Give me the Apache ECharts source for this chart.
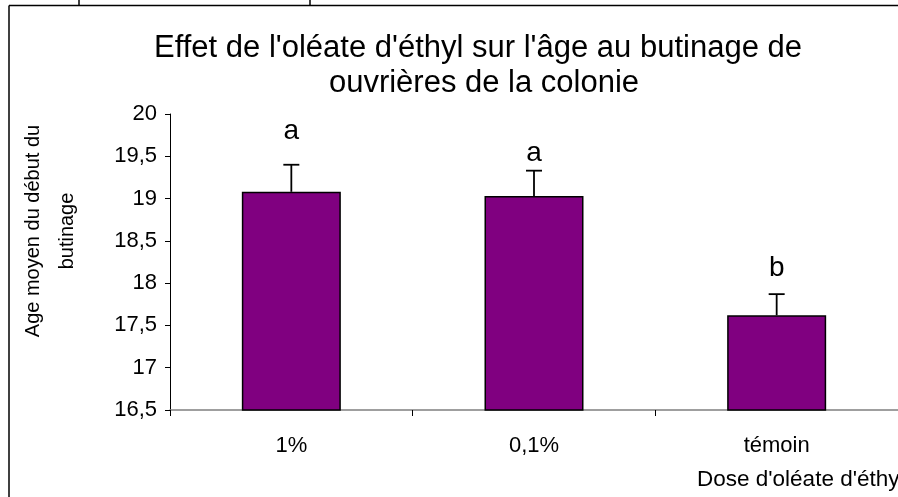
<!DOCTYPE html>
<html>
<head>
<meta charset="utf-8">
<script src="https://cdn.jsdelivr.net/npm/echarts@6/dist/echarts.min.js"></script>
<style>
	html, body { margin: 0; padding: 0; background: #fff; }
	#chart { width: 898px; height: 497px; }
</style>
</head>
<body>
<div id="chart"></div>
<script>
	// data
	var categories = ['1%', '0,1%', 'témoin'];
	var means = [19.08, 19.03, 17.62];
	var errors = [0.32, 0.30, 0.25];
	var letters = ['a', 'a', 'b'];
	var letterLevel = [19.80, 19.54, 18.17];
	var yMin = 16.5, yMax = 20, yStep = 0.5;

	var font = "'Liberation Sans', Arial, sans-serif";
	var titleStyle = { fontFamily: font, fontSize: 31, fontWeight: 'normal', color: '#000' };

	var chart = echarts.init(document.getElementById('chart'), null, { renderer: 'canvas' });

	chart.setOption({
		animation: false,
		backgroundColor: '#fff',
		// the first title line is clipped on the right in the original, so the two lines sit apart
		title: [
			{ text: "Effet de l'oléate d'éthyl sur l'âge au butinage de", left: 473, top: 28, textAlign: 'center', textStyle: titleStyle },
			{ text: 'ouvrières de la colonie', left: 479, top: 63, textAlign: 'center', textStyle: titleStyle }
		],
		grid: { left: 170, right: -1, top: 114, bottom: 87 },
		xAxis: {
			type: 'category',
			data: categories,
			axisLine: { lineStyle: { color: '#808080', width: 1.5 } },
			axisTick: { show: true, length: 6, lineStyle: { color: '#000' } },
			axisLabel: { fontFamily: font, fontSize: 22, color: '#000', margin: 25 }
		},
		yAxis: {
			type: 'value',
			min: yMin,
			max: yMax,
			interval: yStep,
			splitLine: { show: false },
			axisLine: { show: true, lineStyle: { color: '#000', width: 1 } },
			axisTick: { show: true, length: 5, lineStyle: { color: '#000' } },
			axisLabel: {
				fontFamily: font, fontSize: 22, color: '#000', margin: 13,
				formatter: function (v) { return String(v).replace('.', ','); }
			}
		},
		series: [
			{
				type: 'bar',
				data: means,
				barWidth: 99,
				itemStyle: { color: '#800080', borderColor: '#000', borderWidth: 1.5 }
			},
			{
				// upper error bars
				type: 'custom',
				data: categories.map(function (c, i) { return [i, means[i], means[i] + errors[i]]; }),
				renderItem: function (params, api) {
					var base = api.coord([api.value(0), api.value(1)]);
					var top = api.coord([api.value(0), api.value(2)]);
					var st = { stroke: '#000', lineWidth: 1.8 };
					return {
						type: 'group',
						children: [
							{ type: 'line', shape: { x1: base[0], y1: base[1], x2: top[0], y2: top[1] }, style: st },
							{ type: 'line', shape: { x1: top[0] - 8, y1: top[1], x2: top[0] + 8, y2: top[1] }, style: st }
						]
					};
				},
				z: 3
			},
			{
				// significance letters
				type: 'custom',
				data: categories.map(function (c, i) { return [i, letterLevel[i]]; }),
				renderItem: function (params, api) {
					var p = api.coord([api.value(0), api.value(1)]);
					return {
						type: 'text',
						x: p[0],
						y: p[1],
						style: {
							text: letters[params.dataIndex],
							fontFamily: font, fontSize: 28, fill: '#000',
							align: 'center', verticalAlign: 'middle'
						}
					};
				},
				z: 3
			}
		],
		graphic: [
			{
				type: 'text',
				x: 50, y: 231,
				rotation: Math.PI / 2,
				style: {
					text: 'Age moyen du début du\nbutinage',
					fontFamily: font, fontSize: 20, fill: '#000', lineHeight: 34,
					align: 'center', verticalAlign: 'middle'
				}
			},
			{
				type: 'text',
				x: 697, y: 480,
				style: {
					text: "Dose d'oléate d'éthy",
					fontFamily: font, fontSize: 22.5, fill: '#000',
					align: 'left', verticalAlign: 'middle'
				}
			},
			// cell border around the chart
			{ type: 'line', shape: { x1: 9, y1: 5.5, x2: 898, y2: 5.5 }, style: { stroke: '#000', lineWidth: 1.5 } },
			{ type: 'line', shape: { x1: 9, y1: 5.5, x2: 9, y2: 497 }, style: { stroke: '#000', lineWidth: 1.5 } },
			{ type: 'line', shape: { x1: 79, y1: 0, x2: 79, y2: 5 }, style: { stroke: '#000', lineWidth: 1.5 } },
			{ type: 'line', shape: { x1: 310, y1: 0, x2: 310, y2: 5 }, style: { stroke: '#000', lineWidth: 1.5 } }
		]
	});
</script>
</body>
</html>
